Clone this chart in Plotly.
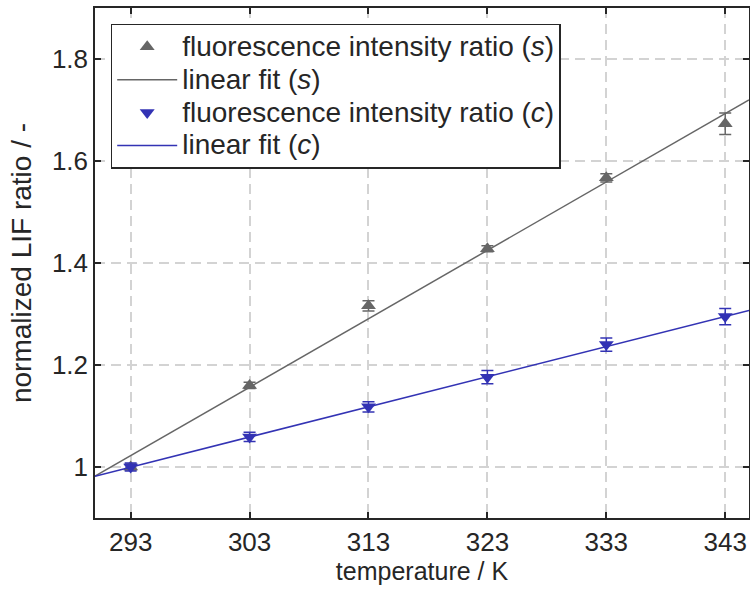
import plotly.graph_objects as go

# ---- data ----
temperature = [293, 303, 313, 323, 333, 343]
ratio_s = [1.000, 1.160, 1.316, 1.428, 1.567, 1.673]
err_s = [0.006, 0.006, 0.010, 0.006, 0.008, 0.021]
ratio_c = [1.000, 1.059, 1.118, 1.176, 1.240, 1.295]
err_c = [0.008, 0.009, 0.010, 0.013, 0.013, 0.016]
fit_x = [290, 345]
fit_s = [0.982, 1.720]
fit_c = [0.982, 1.307]
x_ticks = [293, 303, 313, 323, 333, 343]
y_ticks = [1, 1.2, 1.4, 1.6, 1.8]
names = ["fluorescence intensity ratio (<i>s</i>)", "linear fit (<i>s</i>)",
         "fluorescence intensity ratio (<i>c</i>)", "linear fit (<i>c</i>)"]

GREY = "#666666"
BLUE = "#3333b4"
TXT = "#262626"
FONT = "Liberation Sans, Arial, sans-serif"


def big(t):
    return '<span style="font-size:28px">' + t + '</span>'


fig = go.Figure()
fig.add_trace(go.Scatter(
    x=temperature, y=ratio_s, mode="markers", name=big(names[0]),
    marker=dict(symbol="triangle-up", size=13, color=GREY),
    error_y=dict(type="data", array=err_s, color=GREY, thickness=1.5, width=6),
    legendgroup="a"))
fig.add_trace(go.Scatter(
    x=fit_x, y=fit_s, mode="lines", name=big(names[1]),
    line=dict(color=GREY, width=1.5), legendgroup="b"))
fig.add_trace(go.Scatter(
    x=temperature, y=ratio_c, mode="markers", name=big(names[2]),
    marker=dict(symbol="triangle-down", size=13, color=BLUE),
    error_y=dict(type="data", array=err_c, color=BLUE, thickness=1.5, width=6),
    legendgroup="c"))
fig.add_trace(go.Scatter(
    x=fit_x, y=fit_c, mode="lines", name=big(names[3]),
    line=dict(color=BLUE, width=1.5), legendgroup="d"))

axis_common = dict(
    showline=True, linecolor=TXT, linewidth=1.5, mirror="allticks",
    ticks="inside", ticklen=6, tickwidth=2, tickcolor=TXT,
    showgrid=True, gridcolor="#d3d3d3", gridwidth=1.5, griddash="10px,6px",
    zeroline=False, automargin=False,
    tickfont=dict(size=26, color=TXT, family=FONT),
)

fig.update_layout(
    width=750, height=593,
    margin=dict(l=95, r=1, t=8, b=75),
    paper_bgcolor="white", plot_bgcolor="white",
    font=dict(family=FONT, color=TXT),
    xaxis=dict(range=[290, 345], tickvals=x_ticks,
               title=dict(text="temperature / K", font=dict(size=25, color=TXT), standoff=3),
               **axis_common),
    yaxis=dict(range=[0.9, 1.9], tickvals=y_ticks,
               title=dict(text="normalized LIF ratio / -", font=dict(size=28, color=TXT), standoff=12),
               **axis_common),
    legend=dict(x=0.024, y=0.969, xanchor="left", yanchor="top",
                bgcolor="white", bordercolor=TXT, borderwidth=1.5,
                font=dict(size=23, color=TXT, family=FONT),
                itemwidth=60, tracegroupgap=0, traceorder="grouped"),
    showlegend=True,
)

fig.write_html("out.html", config={"displayModeBar": False},
               post_script="document.body.style.margin='0';document.body.style.padding='0';")
